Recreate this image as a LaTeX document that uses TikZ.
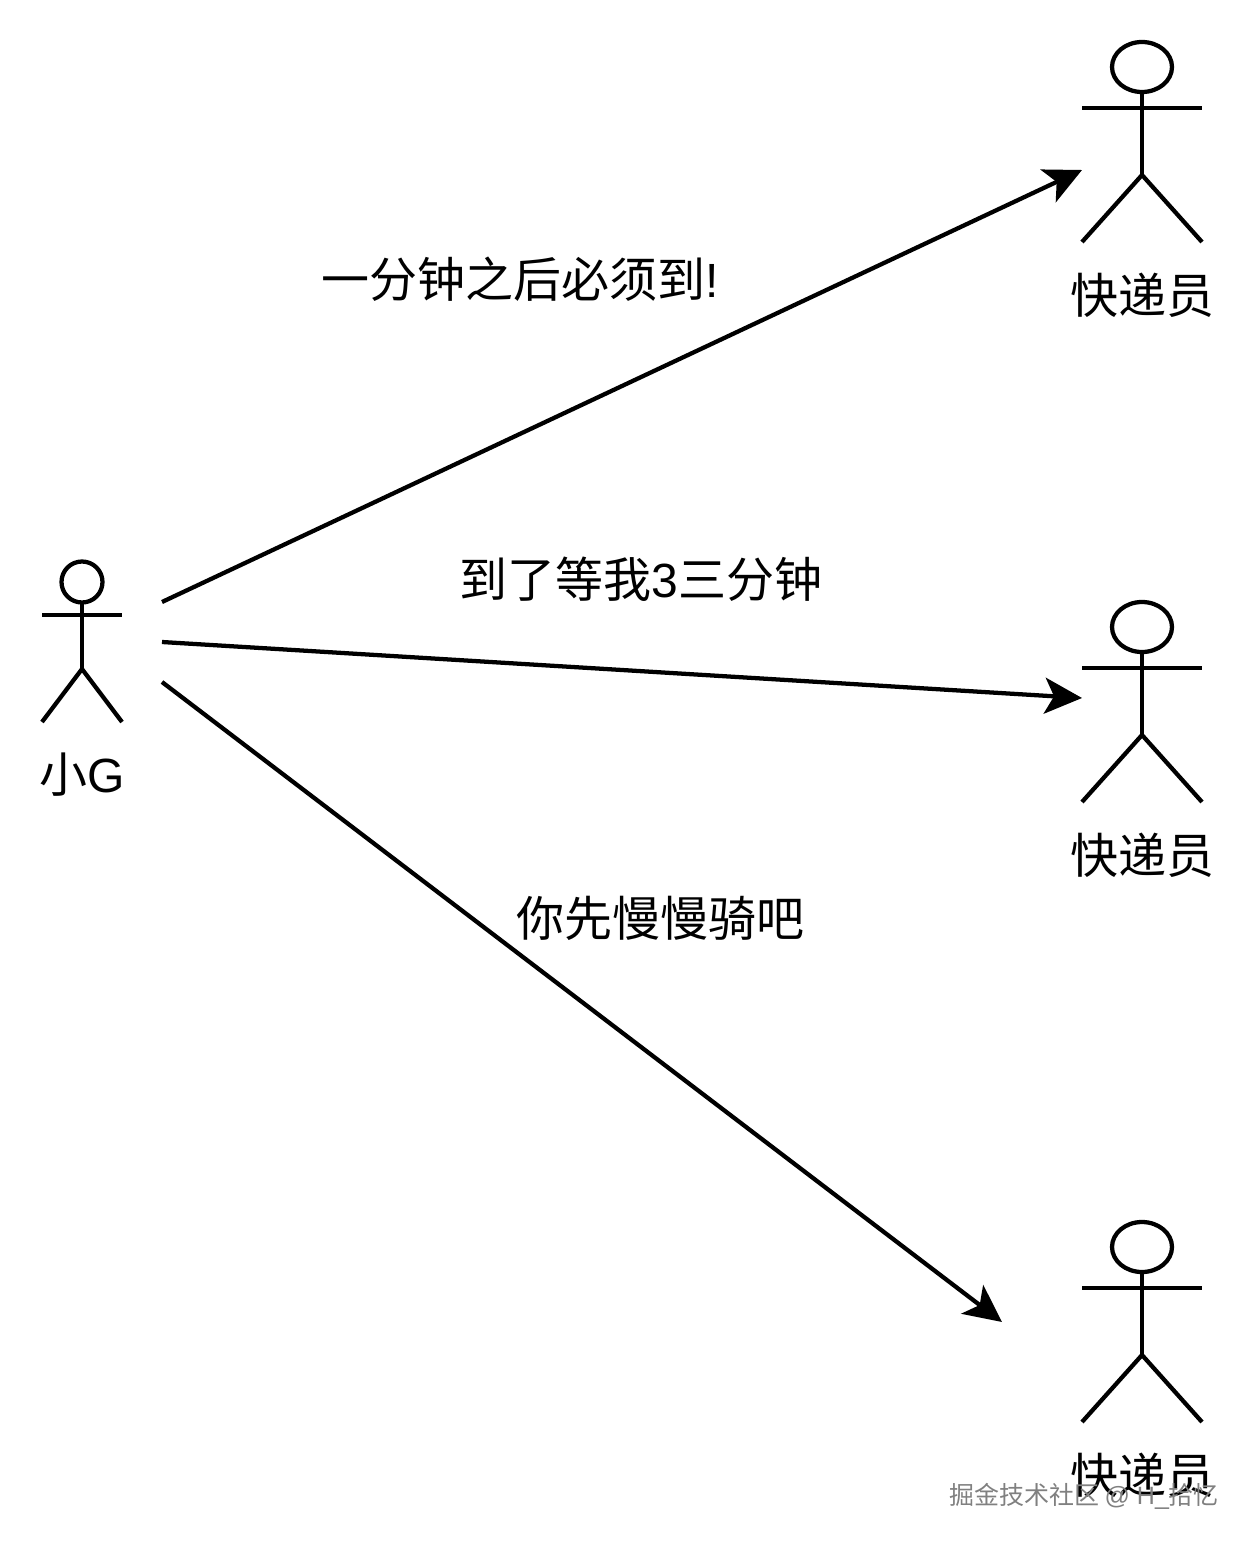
\documentclass[tikz,border=0pt]{standalone}
\usepackage{fontspec}
\setmainfont{Liberation Sans}
\newfontfamily\cjk{Noto Sans CJK SC}
\newcommand{\ltn}[1]{{\rmfamily #1}}
\usetikzlibrary{arrows.meta}
\tikzset{
 lbl/.style={font=\cjk\fontsize{36}{36}\selectfont,inner sep=0pt,anchor=center},
 actorline/.style={line width=3.2pt,line cap=butt,line join=round,black},
 link/.style={line width=3.2pt,black,-{Stealth[length=28pt,width=27pt,inset=7pt]}},
 mark label/.style={font=\cjk\fontsize{18.75}{18.75}\selectfont,text=black!50,inner sep=0pt}
}
\begin{document}
\begin{tikzpicture}[x=0.75pt,y=-0.75pt]
\useasboundingbox (0,0) rectangle (1256,1548);
\foreach \n/\xx/\yy in {a/1142/67,b/1142/627,c/1142/1247}{
 \draw[actorline] (\xx,\yy) ellipse[x radius=30,y radius=25];
 \draw[actorline] (\xx,\yy+25) -- (\xx,\yy+108);
 \draw[actorline] (\xx-60,\yy+41) -- (\xx+60,\yy+41);
 \draw[actorline] (\xx-60,\yy+175) -- (\xx,\yy+108) -- (\xx+60,\yy+175);
 \coordinate (\n) at (\xx,\yy);
}
\node[lbl] (la) at (1142,295) {快递员};
\node[lbl] (lb) at (1142,855) {快递员};
\node[lbl] (lc) at (1142,1475) {快递员};
\draw[actorline] (82,582) circle[radius=20.5];
\draw[actorline] (82,602.5) -- (82,669);
\draw[actorline] (42,615) -- (122,615);
\draw[actorline] (42,722) -- (82,669) -- (122,722);
\node[lbl] (lg) at (82,775) {小\ltn{G}};
\coordinate (s1) at (162,602);
\coordinate (s2) at (162,642);
\coordinate (s3) at (162,682);
\coordinate (e1) at (1082,170);
\coordinate (e2) at (1082,698);
\coordinate (e3) at (1002,1322);
\draw[link] (s1) -- (e1);
\draw[link] (s2) -- (e2);
\draw[link] (s3) -- (e3);
\node[lbl] (t1) at (520,279) {一分钟之后必须到\ltn{!}};
\node[lbl] (t2) at (641,579) {到了等我\ltn{3}三分钟};
\node[lbl] (t3) at (660,918) {你先慢慢骑吧};
\node[mark label] (wm) at (1084,1496) {掘金技术社区 \ltn{@ H\_}拾忆};
\end{tikzpicture}
\end{document}
